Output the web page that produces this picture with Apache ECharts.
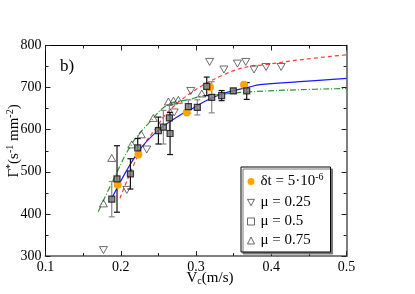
<!DOCTYPE html>
<html><head><meta charset="utf-8">
<script src="https://cdn.jsdelivr.net/npm/echarts@6/dist/echarts.min.js"></script>
<style>html,body{margin:0;padding:0;background:#fff}#c{width:415px;height:294px}</style>
</head><body><div id="c"></div>
<script>
// ---- data ----
const xTicks = [0.1, 0.2, 0.3, 0.4, 0.5];
const yTicks = [300, 400, 500, 600, 700, 800];
const seriesNames = ['δt = 5·10-6', 'μ = 0.25', 'μ = 0.5', 'μ = 0.75'];
const dtPoints = [[0.196,469],[0.2234,541],[0.2876,641],[0.3186,701],[0.3637,707]];
const mu25Points = [[0.177,314],[0.208,457],[0.2345,553],[0.271,641],[0.293,692],[0.318,761],[0.337,743],[0.355,757],[0.366,761],[0.377,743],[0.393,749],[0.413,749]];
const mu75Points = [[0.177,425],[0.188,533],[0.2146,565],[0.2272,589],[0.2433,628],[0.2633,667],[0.27,669],[0.2765,671],[0.3076,686]];
// [x, y, error]
const mu5Black = [[0.195,483,79],[0.2128,495,36],[0.2225,557,22],[0.25,598,32],[0.2655,591,50],[0.3142,703,22],[0.334,681,12],[0.3673,692,20]];
const mu5Gray = [[0.188,435,42],[0.2566,606,40],[0.2646,628,30],[0.2898,655,16],[0.3017,653,18],[0.3208,677,37],[0.3495,692,6]];
const redCurve = [[0.199,437],[0.2256,548],[0.248,607],[0.261,639],[0.292,686],[0.336,730],[0.372,751],[0.385,753],[0.438,766],[0.5,778]];
const blueCurve = [[0.188,437],[0.2234,548],[0.25,599],[0.279,635],[0.292,647],[0.31,666],[0.336,686],[0.372,702],[0.385,707],[0.438,714],[0.5,722]];
const greenCurve = [[0.170,405],[0.188,473],[0.2146,566],[0.239,619],[0.263,660],[0.292,672],[0.305,679],[0.327,683],[0.372,690],[0.438,695],[0.5,698]];

const FONT = 'Liberation Serif';
const chart = echarts.init(document.getElementById('c'), null, {renderer: 'canvas'});
const downTri = 'path://M0,0 L10,0 L5,9 Z';

function errSeries(data, color) {
  return {
    type: 'custom', silent: true, z: 3,
    data: data,
    renderItem: function (params, api) {
      const x = api.value(0), y = api.value(1), e = api.value(2);
      const top = api.coord([x, y + e]);
      const bot = api.coord([x, y - e]);
      const cw = 3;
      const st = {stroke: color, lineWidth: 1.2};
      return {type: 'group', children: [
        {type: 'line', shape: {x1: top[0], y1: top[1], x2: bot[0], y2: bot[1]}, style: st},
        {type: 'line', shape: {x1: top[0]-cw, y1: top[1], x2: top[0]+cw, y2: top[1]}, style: st},
        {type: 'line', shape: {x1: bot[0]-cw, y1: bot[1], x2: bot[0]+cw, y2: bot[1]}, style: st}
      ]};
    }
  };
}

const option = {
  animation: false,
  backgroundColor: '#fff',
  grid: {left: 45.5, right: 68.4, top: 45.5, bottom: 38, containLabel: false},
  xAxis: [{
    type: 'value', min: xTicks[0], max: xTicks[xTicks.length-1], interval: 0.1,
    position: 'bottom',
    axisLine: {lineStyle: {color: '#808080', width: 2}},
    axisTick: {inside: true, length: 5, lineStyle: {color: '#222'}},
    minorTick: {show: true, splitNumber: 2, length: 3, lineStyle: {color: '#222'}},
    splitLine: {show: false},
    axisLabel: {fontFamily: FONT, fontSize: 14, color: '#000', margin: 4,
      formatter: v => v.toFixed(1)}
  }, {
    type: 'value', min: xTicks[0], max: xTicks[xTicks.length-1], interval: 0.1,
    position: 'top',
    axisLine: {lineStyle: {color: '#000', width: 1}},
    axisTick: {inside: true, length: 5, lineStyle: {color: '#222'}},
    minorTick: {show: true, splitNumber: 2, length: 3, lineStyle: {color: '#222'}},
    splitLine: {show: false}, axisLabel: {show: false}
  }],
  yAxis: [{
    type: 'value', min: yTicks[0], max: yTicks[yTicks.length-1], interval: 100,
    position: 'left',
    axisLine: {show: true, lineStyle: {color: '#000', width: 1}},
    axisTick: {show: true, inside: true, length: 5, lineStyle: {color: '#222'}},
    minorTick: {show: true, splitNumber: 2, length: 3, lineStyle: {color: '#222'}},
    splitLine: {show: false},
    axisLabel: {fontFamily: FONT, fontSize: 14, color: '#000', margin: 4}
  }, {
    type: 'value', min: yTicks[0], max: yTicks[yTicks.length-1], interval: 100,
    position: 'right',
    axisLine: {show: true, lineStyle: {color: '#808080', width: 2}},
    axisTick: {show: true, inside: true, length: 5, lineStyle: {color: '#222'}},
    minorTick: {show: true, splitNumber: 2, length: 3, lineStyle: {color: '#222'}},
    splitLine: {show: false}, axisLabel: {show: false}
  }],
  legend: {
    orient: 'vertical', left: 241, top: 167,
    backgroundColor: '#fff', borderColor: '#000', borderWidth: 1,
    shadowColor: 'rgba(120,120,120,1)', shadowOffsetX: 2, shadowOffsetY: 2, shadowBlur: 0,
    padding: [5, 7, 4, 6], itemGap: 4, itemWidth: 7, itemHeight: 7,
    data: [
      {name: seriesNames[0], icon: 'circle', itemStyle: {color: '#ffa500', borderWidth: 0}},
      {name: seriesNames[1], icon: downTri, itemStyle: {color: '#fff', borderColor: '#444', borderWidth: 1}},
      {name: seriesNames[2], icon: 'rect', itemStyle: {color: '#fff', borderColor: '#444', borderWidth: 1}},
      {name: seriesNames[3], icon: 'triangle', itemStyle: {color: '#fff', borderColor: '#444', borderWidth: 1}}
    ],
    formatter: function (name) {
      if (name === seriesNames[0]) return '{n|δt = 5·10}{s|-6}';
      return '{n|' + name + '}';
    },
    textStyle: {fontFamily: FONT, fontSize: 14, color: '#000', padding: [0,0,0,1],
      rich: {
        n: {fontFamily: FONT, fontSize: 15, color: '#000', lineHeight: 14},
        s: {fontFamily: FONT, fontSize: 10, color: '#000', padding: [0,0,9,0], lineHeight: 14}
      }
    }
  },
  graphic: [
    {type: 'text', left: 60, top: 58, style: {text: 'b)', font: '17px "Liberation Serif"', fill: '#000'}},
    {type: 'text', x: 210, y: 278, style: {
      text: '{n|V}{s|c}{n|(m/s)}', textAlign: 'center', textVerticalAlign: 'middle',
      rich: {
        n: {fontFamily: FONT, fontSize: 15, color: '#000'},
        s: {fontFamily: FONT, fontSize: 10, color: '#000', padding: [6,0,0,0]}
      }}},
    {type: 'text', x: 14, y: 141, rotation: Math.PI / 2, style: {
      text: '{n|Γ}{s|*}{n|(s}{s|-1}{n| mm}{s|-2}{n|)}', textAlign: 'center', textVerticalAlign: 'middle',
      rich: {
        n: {fontFamily: FONT, fontSize: 15, color: '#000'},
        s: {fontFamily: FONT, fontSize: 10, color: '#000', padding: [0,0,8,0]}
      }}}
  ],
  series: [
    {type: 'line', data: redCurve, smooth: 0.4, showSymbol: false, silent: true, z: 2,
      lineStyle: {color: '#ff3b3b', width: 1.2, type: [4, 3]}},
    {type: 'line', data: blueCurve, smooth: 0.4, showSymbol: false, silent: true, z: 2,
      lineStyle: {color: '#1a1aff', width: 1.2}},
    {type: 'line', data: greenCurve, smooth: 0.4, showSymbol: false, silent: true, z: 2,
      lineStyle: {color: '#2a9a2a', width: 1.2, type: [6, 2, 1, 2]}},
    errSeries(mu5Gray, '#8a8a8a'),
    errSeries(mu5Black, '#111'),
    {name: seriesNames[0], type: 'scatter', data: dtPoints, symbol: 'circle', symbolSize: 8, z: 4,
      itemStyle: {color: '#ffa500', opacity: 1}},
    {name: seriesNames[1], type: 'scatter', data: mu25Points, symbol: downTri, symbolSize: [8, 7], z: 4,
      itemStyle: {color: 'rgba(255,255,255,0)', borderColor: '#333', borderWidth: 0.9}},
    {name: seriesNames[2], type: 'scatter', data: mu5Black.concat(mu5Gray).map(d => [d[0], d[1]]), symbol: 'rect', symbolSize: 6, z: 5,
      itemStyle: {color: '#7a7a7a', borderColor: '#111', borderWidth: 1.2}},
    {name: seriesNames[3], type: 'scatter', data: mu75Points, symbol: 'triangle', symbolSize: [8, 7], z: 4,
      itemStyle: {color: 'rgba(255,255,255,0)', borderColor: '#333', borderWidth: 0.9}}
  ]
};
chart.setOption(option);
</script></body></html>
